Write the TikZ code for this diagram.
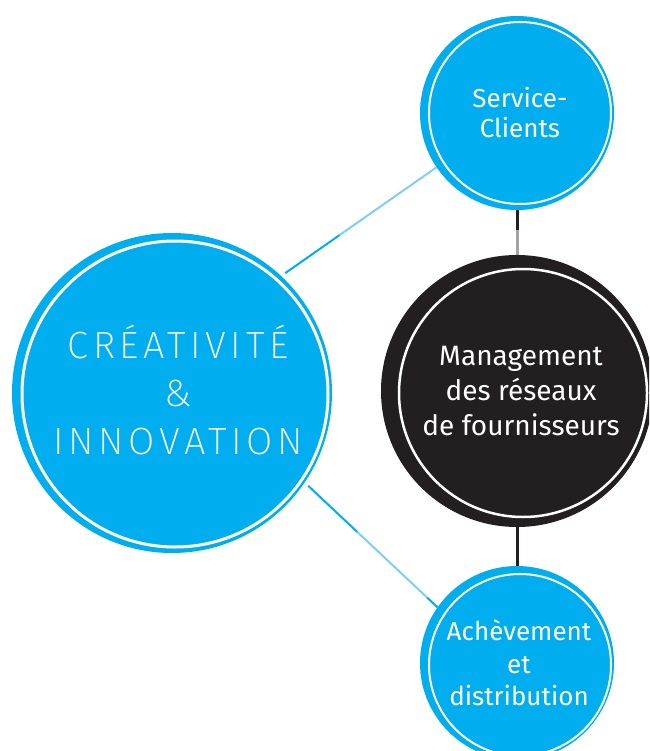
\documentclass[tikz,border=0pt]{standalone}
\usepackage{fontspec}
\setmainfont{Fira Sans}
\IfFontExistsTF{Fira Sans ExtraLight}
  {\newfontfamily\thinfont[LetterSpace=12]{Fira Sans ExtraLight}}
  {\IfFontExistsTF{Fira Sans Light}
    {\newfontfamily\thinfont[LetterSpace=12]{Fira Sans Light}}
    {\newfontfamily\thinfont[LetterSpace=12]{Fira Sans}}}
\usetikzlibrary{calc}
\definecolor{cblue}{HTML}{00AEEF}
\definecolor{lblue}{HTML}{80CFF2}
\definecolor{cblack}{HTML}{231F20}
\definecolor{cgrey}{HTML}{A3A3A3}
\begin{document}
\begin{tikzpicture}[x=1pt,y=-1pt,
  disc/.style={circle, inner sep=0pt, outer sep=0pt},
  ring/.style={draw=white},
  lbl/.style={text=white, anchor=base, inner sep=0pt},
  smallfont/.style={font=\fontsize{26}{30}\selectfont},
  midfont/.style={font=\fontsize{28}{34}\selectfont},
  bigfont/.style={font=\thinfont\fontsize{38}{48}\selectfont},
  thinline/.style={line width=2pt},
  thickline/.style={line width=3pt},
]
\useasboundingbox (0,0) rectangle (649,751);
\clip (0,0) rectangle (649,751);

% discs
\node[disc, fill=cblue, minimum size=320pt] (big) at (172,393) {};
\draw[ring, line width=3pt] (175,394) circle[radius=153pt];

\node[disc, fill=cblue, minimum size=194pt] (svc) at (517,113) {};
\draw[ring, line width=2pt] (520,113) circle[radius=91pt];

\node[disc, fill=cblack, minimum size=272pt] (mgmt) at (517,391) {};
\draw[ring, line width=2.5pt] (523,393) circle[radius=124pt];

\node[disc, fill=cblue, minimum size=194pt] (ach) at (517,663) {};
\draw[ring, line width=2pt] (520,665) circle[radius=91pt];

% connectors
\coordinate (a1) at ($(big.47.7)!5pt!(svc.214.5)$);
\coordinate (a2) at ($(a1)!0.36!(svc.214.5)$);
\draw[cblue, thinline] (a1) -- (a2);
\draw[lblue, thinline] (a2) -- (svc.214.5);

\coordinate (b1) at ($(big.-34.6)!5pt!(ach.145)$);
\coordinate (b2) at ($(b1)!0.38!(ach.145)$);
\coordinate (b3) at ($(b1)!0.92!(ach.145)$);
\draw[cblue, thinline] (b1) -- (b2);
\draw[lblue, thinline] (b2) -- (b3);
\draw[cblue, thinline] (b3) -- (ach.145);

\coordinate (c1) at ($(svc.south)!0.44!(mgmt.north)$);
\draw[cblack, thickline] (svc.south) -- (c1);
\draw[cgrey, thickline] (c1) -- (mgmt.north);
\draw[cblack, thickline] (mgmt.south) -- (ach.north);

% labels
\node[lbl, smallfont] (t1) at (520,108) {Service-};
\node[lbl, smallfont] (t2) at (520,138) {Clients};

\node[lbl, midfont] (m1) at (521,365) {Management};
\node[lbl, midfont] (m2) at (521,400) {des réseaux};
\node[lbl, midfont] (m3) at (521,435) {de fournisseurs};

\node[lbl, smallfont] (d1) at (519,640) {Achèvement};
\node[lbl, smallfont] (d2) at (519,673) {et};
\node[lbl, smallfont] (d3) at (519,705) {distribution};

\node[lbl, bigfont] (g1) at (178,358) {CRÉATIVITÉ};
\node[lbl, bigfont] (g2) at (178,406) {\&};
\node[lbl, bigfont] (g3) at (178,454) {INNOVATION};
\end{tikzpicture}
\end{document}
